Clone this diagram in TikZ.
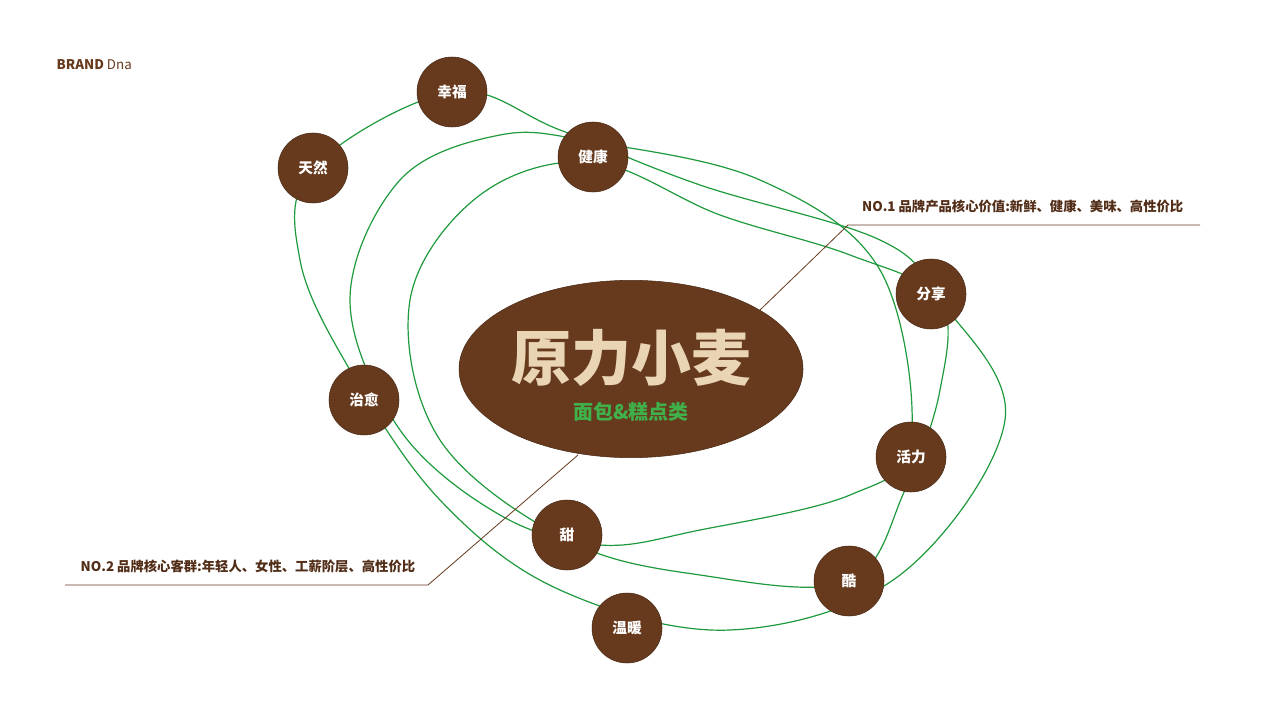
\documentclass[tikz,border=0pt]{standalone}
\usepackage{fontspec}
\usetikzlibrary{shapes.geometric}
\setmainfont{Noto Sans CJK SC}
\definecolor{br}{HTML}{673A1E}
\definecolor{gr}{HTML}{1E9A3C}
\definecolor{bg}{HTML}{E9D4B4}
\definecolor{sg}{HTML}{3FB04A}
\begin{document}
\begin{tikzpicture}[x=0.75pt,y=-0.75pt,
 dot/.style={circle,fill=br,draw=br!70!black,minimum size=52.5pt,inner sep=0pt,text=white,font=\fontsize{11}{11}\selectfont\bfseries},
 loop/.style={gr,line width=0.9pt},
 lead/.style={br,line width=0.6pt}]
\useasboundingbox (0,0) rectangle (1280,720);
\draw[loop] plot[smooth cycle,tension=0.6] coordinates {(313,168)(452,92)(560,130)(700,185)(880,240)(940,300)(1005,420)(900,575)(730,630)(560,590)(440,500)(350,370)(300,260)};
\draw[loop] plot[smooth cycle,tension=0.6] coordinates {(593,142)(760,180)(880,270)(911,440)(850,495)(700,530)(600,545)(500,515)(400,430)(350,300)(400,180)(500,135)};
\draw[loop] plot[smooth cycle,tension=0.6] coordinates {(593,162)(480,195)(410,300)(440,440)(567,540)(700,575)(849,581)(905,490)(940,390)(940,300)(850,255)(720,215)};
\node[ellipse,fill=br,draw=br!70!black,minimum width=258pt,minimum height=133pt] (core) at (631,369) {};
\node[text=bg,font=\fontsize{45}{45}\selectfont\bfseries] (t) at (631,358) {原力小麦};
\node[text=sg,font=\fontsize{15}{15}\selectfont\bfseries] (s) at (631,412) {面包\&糕点类};
\foreach \n/\x/\y/\t in {a/452/92/幸福,b/313/168/天然,c/593/157/健康,d/931/294/分享,e/364/400/治愈,f/911/457/活力,g/567/535/甜,h/849/581/酷,i/627/628/温暖}
 \node[dot] (\n) at (\x,\y) {\t};
\coordinate (p1) at (760,310); \coordinate (p2) at (848,225); \coordinate (p3) at (1200,225);
\draw[lead] (p1)--(p2)--(p3);
\node[anchor=south east,text=br!80!black,font=\fontsize{10}{10}\selectfont\bfseries] (l1) at (1188,218) {NO.1 品牌产品核心价值:新鲜、健康、美味、高性价比};
\coordinate (q1) at (578,455); \coordinate (q2) at (428,585); \coordinate (q3) at (65,585);
\draw[lead] (q1)--(q2)--(q3);
\node[anchor=south west,text=br!80!black,font=\fontsize{10}{10}\selectfont\bfseries] (l2) at (76,578) {NO.2 品牌核心客群:年轻人、女性、工薪阶层、高性价比};
\node[anchor=west,text=br,font=\fontsize{10}{10}\selectfont] (brand) at (52,65) {\textbf{BRAND} Dna};
\end{tikzpicture}
\end{document}
